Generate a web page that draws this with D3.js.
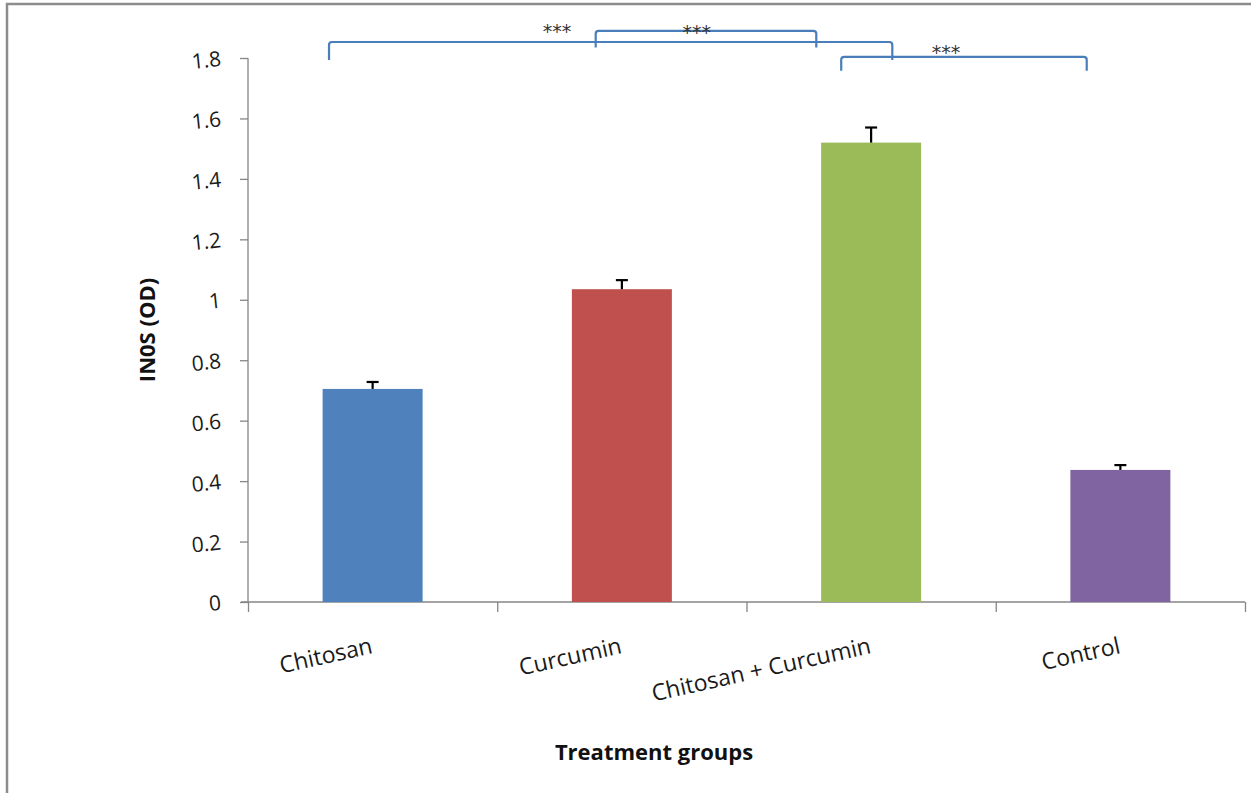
<!DOCTYPE html>
<html><head><meta charset="utf-8">
<script src="https://cdn.jsdelivr.net/npm/d3@7"></script>
<style>body{margin:0;background:#fff}svg{display:block}</style>
</head><body>
<script>
const categories = ["Chitosan", "Curcumin", "Chitosan + Curcumin", "Control"];
const values = [0.705, 1.035, 1.52, 0.437];
const errors = [0.023, 0.030, 0.050, 0.016];
const colors = ["#4f81bd", "#c0504d", "#9bbb59", "#8064a2"];
const yTicks = [0, 0.2, 0.4, 0.6, 0.8, 1, 1.2, 1.4, 1.6, 1.8];
// significance brackets: x in category-index units, y in value units
const brackets = [
  {x1: 0.325, x2: 2.585, y: 1.853, legs: 0.06, label: "***", lx: 1.24, ly: 1.88},
  {x1: 1.395, x2: 2.28, y: 1.89, legs: 0.055, label: "***", lx: 1.8, ly: 1.878},
  {x1: 2.38, x2: 3.365, y: 1.804, legs: 0.046, label: "***", lx: 2.8, ly: 1.81}
];

const W = 1251, H = 793;
const svg = d3.select("body").append("svg").attr("width", W).attr("height", H);
const font = "'Open Sans', Lato, sans-serif";

// outer frame
svg.append("path").attr("d", `M7,${H} L7,4 L${W},4`).attr("fill", "none")
  .attr("stroke", "#8c8c8c").attr("stroke-width", 2.5);

const x0 = 248, x1 = 1245, yTop = 58, yBot = 602;
const x = d3.scaleBand().domain(categories).range([x0, x1]).padding(0);
const xi = d3.scaleLinear().domain([0, categories.length]).range([x0, x1]);
const y = d3.scaleLinear().domain([0, 1.8]).range([yBot, yTop]);

// y axis
const ya = svg.append("g").attr("transform", `translate(${x0},0)`)
  .call(d3.axisLeft(y).tickValues(yTicks).tickSize(8).tickFormat(d => d3.format("")(+d.toFixed(1))));
ya.select(".domain").attr("stroke", "#868686").attr("stroke-width", 1.3).attr("d", `M0,${yTop}V${yBot}`);
ya.selectAll(".tick line").attr("stroke", "#868686").attr("stroke-width", 1.3);
ya.selectAll(".tick text").attr("font-family", font).attr("font-size", 21).attr("fill", "#1a1a1a")
  .attr("x", -27).attr("dy", "0.35em")
  .attr("transform", "rotate(-6,-27,0)");

// x axis
const xa = svg.append("g").attr("transform", `translate(0,${yBot})`)
  .call(d3.axisBottom(xi).tickValues(d3.range(categories.length + 1)).tickSize(10).tickFormat(""));
xa.select(".domain").attr("stroke", "#868686").attr("stroke-width", 1.3).attr("d", `M${x0 - 7},0H${x1}`);
xa.selectAll(".tick line").attr("stroke", "#868686").attr("stroke-width", 1.3);

// category labels
svg.append("g").selectAll("text").data(categories).join("text")
  .attr("transform", d => `translate(${x(d) + x.bandwidth() / 2 + 1},653) rotate(-12.5)`)
  .attr("text-anchor", "end").attr("font-family", font).attr("font-size", 23).attr("fill", "#1a1a1a")
  .text(d => d);

// bars
const bw = 100;
const bars = svg.append("g");
bars.selectAll("rect").data(categories).join("rect")
  .attr("x", d => x(d) + x.bandwidth() / 2 - bw / 2)
  .attr("width", bw)
  .attr("y", (d, i) => y(values[i]))
  .attr("height", (d, i) => y(0) - y(values[i]))
  .attr("fill", (d, i) => colors[i]);

// error bars (upper only)
const eb = svg.append("g").attr("stroke", "#000").attr("stroke-width", 2.2);
categories.forEach((c, i) => {
  const cx = x(c) + x.bandwidth() / 2;
  eb.append("line").attr("x1", cx).attr("x2", cx).attr("y1", y(values[i])).attr("y2", y(values[i] + errors[i]));
  eb.append("line").attr("x1", cx - 6).attr("x2", cx + 6).attr("y1", y(values[i] + errors[i])).attr("y2", y(values[i] + errors[i]));
});

// significance brackets
const bg = svg.append("g");
brackets.forEach(b => {
  const xa1 = xi(b.x1), xa2 = xi(b.x2), yy = y(b.y), yl = y(b.y - b.legs), r = 3;
  bg.append("path")
    .attr("d", `M${xa1},${yl} L${xa1},${yy + r} Q${xa1},${yy} ${xa1 + r},${yy} L${xa2 - r},${yy} Q${xa2},${yy} ${xa2},${yy + r} L${xa2},${yl}`)
    .attr("fill", "none").attr("stroke", "#4a7ebb").attr("stroke-width", 2.2);
});
brackets.forEach(b => {
  bg.append("text").attr("x", xi(b.lx)).attr("y", y(b.ly) + 4.5)
    .attr("text-anchor", "middle").attr("font-family", "'DejaVu Sans', sans-serif").attr("font-size", 19)
    .attr("fill", "#333").text(b.label);
});

// axis titles
svg.append("text").attr("transform", "translate(155,330) rotate(-90)")
  .attr("text-anchor", "middle").attr("font-family", font).attr("font-weight", "bold")
  .attr("font-size", 22).attr("fill", "#111").text("IN0S (OD)");
svg.append("text").attr("x", 654).attr("y", 760)
  .attr("text-anchor", "middle").attr("font-family", font).attr("font-weight", "bold")
  .attr("font-size", 22).attr("fill", "#111").text("Treatment groups");
</script>
</body></html>
